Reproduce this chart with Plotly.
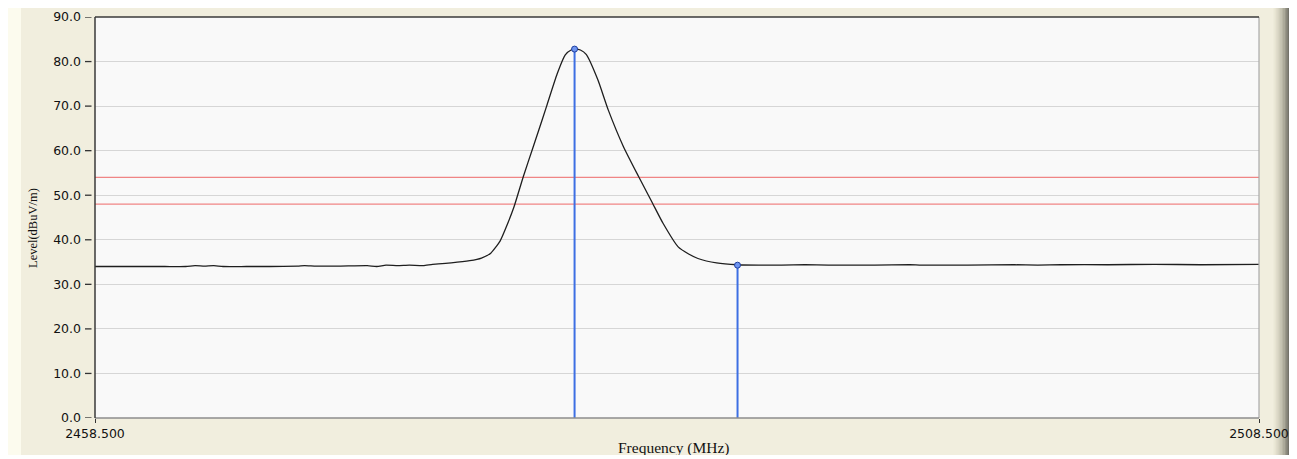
import plotly.graph_objects as go

# ---- data ----
freq_mhz = [2458.5, 2460.0, 2461.5, 2462.4, 2462.8, 2463.2, 2463.6, 2464.0, 2465.0, 2466.0,
            2467.2, 2467.5, 2468.0, 2469.0, 2470.2, 2470.6, 2471.0, 2471.5, 2472.0, 2472.6,
            2473.0, 2473.8, 2474.6, 2475.1, 2475.5, 2475.9, 2476.2, 2476.5, 2476.9, 2477.3,
            2477.55, 2477.9, 2478.35, 2478.7, 2478.95, 2479.14, 2479.35, 2479.6, 2480.1,
            2480.55, 2481.2, 2481.85, 2482.45, 2482.9, 2483.55, 2484.0, 2484.4, 2485.2, 2486.1,
            2487.0, 2488.0, 2489.0, 2490.0, 2492.0, 2493.5, 2494.0, 2496.0, 2498.0,
            2499.0, 2500.0, 2502.0, 2504.0, 2506.0, 2508.5]
level_dbuv = [34.0, 34.0, 34.0, 34.0, 34.2, 34.1, 34.2, 34.0, 34.0, 34.0,
              34.1, 34.2, 34.1, 34.1, 34.2, 34.0, 34.3, 34.2, 34.3, 34.2,
              34.5, 34.8, 35.3, 35.9, 37.0, 39.7, 43.3, 47.4, 54.2, 60.5,
              64.4, 70.0, 77.2, 81.5, 82.6, 82.8, 82.6, 81.6, 75.9,
              69.1, 60.9, 54.2, 48.2, 43.7, 38.4, 36.8, 35.8, 34.8, 34.4,
              34.3, 34.3, 34.4, 34.3, 34.3, 34.4, 34.3, 34.3, 34.4,
              34.3, 34.4, 34.4, 34.5, 34.4, 34.5]

marker_freq = [2479.1, 2486.1]
marker_level = [82.8, 34.3]

limit_levels = [54.0, 48.0]

x_range = [2458.5, 2508.5]
x_ticks = [2458.5, 2508.5]
x_ticktext = ["2458.500", "2508.500"]
y_ticks = [0, 10, 20, 30, 40, 50, 60, 70, 80, 90]

# ---- layout geometry (figure pixels; page adds an 8px body margin) ----
OFF = 8
W, H = 1282, 447
L, R, T, B = 87, 31, 9, 37
PW, PH = W - L - R, H - T - B


def px(xp):
    # xp given in page pixels
    return (xp - OFF - L) / PW


def py(yp):
    return (H - B - (yp - OFF)) / PH


fig = go.Figure()

# limit lines
for lv in limit_levels:
    fig.add_trace(go.Scatter(x=x_range, y=[lv, lv], mode="lines",
                             line=dict(color="#F08585", width=1.2),
                             hoverinfo="skip", showlegend=False))

# spectrum trace
fig.add_trace(go.Scatter(x=freq_mhz, y=level_dbuv, mode="lines",
                         line=dict(color="#1E1E1E", width=1.3, shape="spline", smoothing=0.5),
                         showlegend=False))

# marker stems
for f, lv in zip(marker_freq, marker_level):
    fig.add_trace(go.Scatter(x=[f, f], y=[0, lv], mode="lines",
                             line=dict(color="#3D6FE3", width=2),
                             hoverinfo="skip", showlegend=False))
fig.add_trace(go.Scatter(x=marker_freq, y=marker_level, mode="markers",
                         marker=dict(symbol="circle", size=6, color="#6F95F0",
                                     line=dict(color="#1F3FA0", width=1)),
                         showlegend=False))

shapes = []
# window decorations outside plot area
shapes.append(dict(type="rect", xref="paper", yref="paper", x0=px(OFF), x1=px(21), y0=py(OFF), y1=py(OFF + H),
                   fillcolor="#FCFBEE", line=dict(width=0), layer="below"))
grad = ["#EEEBDA", "#E8E5D3", "#E0DDCB", "#D8D5C3", "#CFCCBA", "#C5C2B1", "#BAB8A7", "#ADAB9B",
        "#9E9C8E", "#8C8A7E", "#77766C", "#5E5D56"]
x0 = 1273
wstep = 17 / len(grad)
for i, c in enumerate(grad):
    shapes.append(dict(type="rect", xref="paper", yref="paper",
                       x0=px(x0 + i * wstep), x1=px(x0 + (i + 1) * wstep + 0.3),
                       y0=py(OFF), y1=py(OFF + H), fillcolor=c, line=dict(width=0), layer="below"))
# y tick dashes (detached from axis)
for v in y_ticks:
    shapes.append(dict(type="line", xref="paper", yref="y", x0=px(85), x1=px(91.5), y0=v, y1=v,
                       line=dict(color="#333333", width=1.3)))
# plot frame
shapes.append(dict(type="line", xref="paper", yref="paper", x0=1, x1=1, y0=0, y1=1,
                   line=dict(color="#A8A8A8", width=1.2)))
shapes.append(dict(type="line", xref="paper", yref="paper", x0=0, x1=1, y0=0, y1=0,
                   line=dict(color="#8C8C8C", width=1.5)))
shapes.append(dict(type="line", xref="paper", yref="paper", x0=0, x1=1, y0=1, y1=1,
                   line=dict(color="#3A3A3A", width=1.5)))
shapes.append(dict(type="line", xref="paper", yref="paper", x0=0, x1=0, y0=0, y1=1,
                   line=dict(color="#3A3A3A", width=1.5)))

annotations = [
    dict(text="Level(dBuV/m)", xref="paper", yref="paper", x=px(33), y=py(228),
         xanchor="center", yanchor="middle", textangle=-90, showarrow=False,
         font=dict(family="Liberation Serif", size=12.5, color="#111111")),
    dict(text="Frequency (MHz)", xref="paper", yref="paper", x=px(673), y=py(448),
         xanchor="center", yanchor="middle", showarrow=False,
         font=dict(family="Liberation Serif", size=15.5, color="#111111")),
]

fig.update_layout(
    width=W, height=H,
    margin=dict(l=L, r=R, t=T, b=B, pad=0, autoexpand=False),
    paper_bgcolor="#F1EEDE",
    plot_bgcolor="#F9F9F9",
    shapes=shapes,
    annotations=annotations,
    showlegend=False,
    xaxis=dict(range=x_range, tickvals=x_ticks, ticktext=x_ticktext, automargin=False,
               showgrid=False, zeroline=False, showline=False,
               ticks="outside", ticklen=4, tickcolor="#333333", tickwidth=1,
               tickfont=dict(family="DejaVu Sans", size=12.5, color="#111111")),
    yaxis=dict(range=[0, 90], tickvals=y_ticks, tickformat=".1f", automargin=False,
               showgrid=True, gridcolor="#D6D6D6", gridwidth=1,
               zeroline=False, showline=False,
               ticks="", ticklabelstandoff=13,
               tickfont=dict(family="DejaVu Sans", size=12.5, color="#111111")),
)

fig.write_html("out.html")
